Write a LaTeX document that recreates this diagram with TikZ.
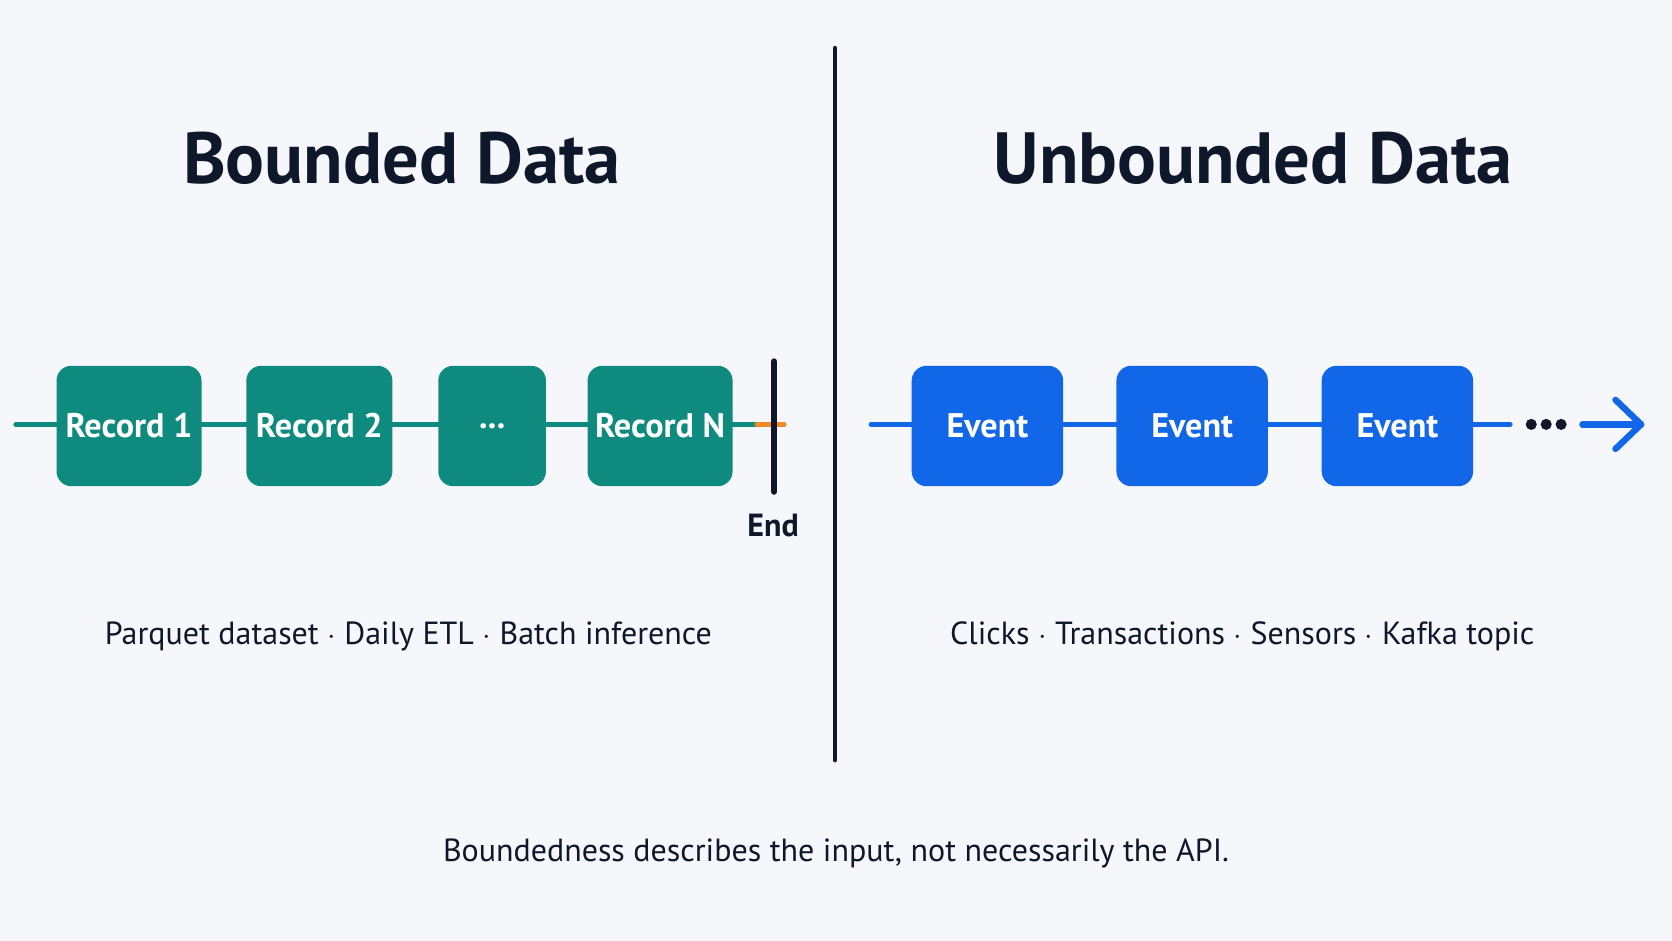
\documentclass[tikz,border=0pt]{standalone}
\usepackage{fontspec}
\setmainfont{PT Sans}
\usetikzlibrary{positioning,arrows.meta}
\definecolor{bg}{HTML}{F5F7FA}
\definecolor{ink}{HTML}{0F172A}
\definecolor{teal}{HTML}{0E8A7E}
\definecolor{blu}{HTML}{1266E8}
\definecolor{org}{HTML}{F08A24}
\tikzset{
  rec/.style={draw=none,fill=teal,rounded corners=7pt,minimum height=56.5pt,text=white,font=\bfseries\fontsize{16}{18}\selectfont},
  evt/.style={draw=none,fill=blu,rounded corners=7pt,minimum width=71pt,minimum height=56.5pt,text=white,font=\bfseries\fontsize{16}{18}\selectfont},
  title/.style={text=ink,font=\bfseries\fontsize{34}{38}\selectfont},
  caption/.style={text=ink,font=\fontsize{15}{18}\selectfont}
}
\begin{document}
\begin{tikzpicture}[line cap=round,line join=round,x=0.5pt,y=-0.5pt]
		\fill[bg] (0,0) rectangle (1568,882);
		\useasboundingbox (0,0) rectangle (1568,882);
		% divider and titles
		\draw [line width=2pt,ink] (783,45)-- (783,713);
		\node[title] (tb) at (377,148) {Bounded Data};
		\node[title] (tu) at (1175,148) {Unbounded Data};
		% bounded side
		\coordinate (ls) at (15,398);
		\coordinate (le) at (735,398);
		\draw [line width=2.5pt,teal] (ls)-- (le);
		\node[rec,minimum width=68pt] (r1) at (121,399.5) {Record 1};
		\node[rec,minimum width=68.5pt] (r2) at (299.5,399.5) {Record 2};
		\node[rec,minimum width=50.5pt] (rd) at (461.5,399.5) {...};
		\node[rec,minimum width=68pt] (rn) at (619,399.5) {Record N};
		\coordinate (o1) at (710,398);
		\draw [line width=2.5pt,org] (o1)-- (le);
		\coordinate (et) at (726,339);
		\coordinate (eb) at (726,461);
		\draw [line width=3pt,ink] (et)-- (eb);
		\node[text=ink,font=\bfseries\fontsize{15}{18}\selectfont] (end) at (725,493) {End};
		\node[caption] (cb) at (383,597) {Parquet dataset $\cdot$ Daily ETL $\cdot$ Batch inference};
		% unbounded side
		\coordinate (us) at (817,398);
		\coordinate (ue) at (1416,398);
		\draw [line width=2.5pt,blu] (us)-- (ue);
		\node[evt] (e1) at (926,399.5) {Event};
		\node[evt] (e2) at (1118,399.5) {Event};
		\node[evt] (e3) at (1310.5,399.5) {Event};
		\foreach \x in {1436,1450,1464} \fill[ink] (\x,398) circle (2.6pt);
		\coordinate (as) at (1484,398);
		\coordinate (ae) at (1539,398);
		\draw [line width=3pt,blu] (as)-- (ae);
		\draw [line width=3pt,blu] (1515,375)-- (ae)-- (1515,421);
		\node[caption] (cu) at (1165,597) {Clicks $\cdot$ Transactions $\cdot$ Sensors $\cdot$ Kafka topic};
		% footer
		\node[caption] (ft) at (784,800) {Boundedness describes the input, not necessarily the API.};
	\end{tikzpicture}
\end{document}
